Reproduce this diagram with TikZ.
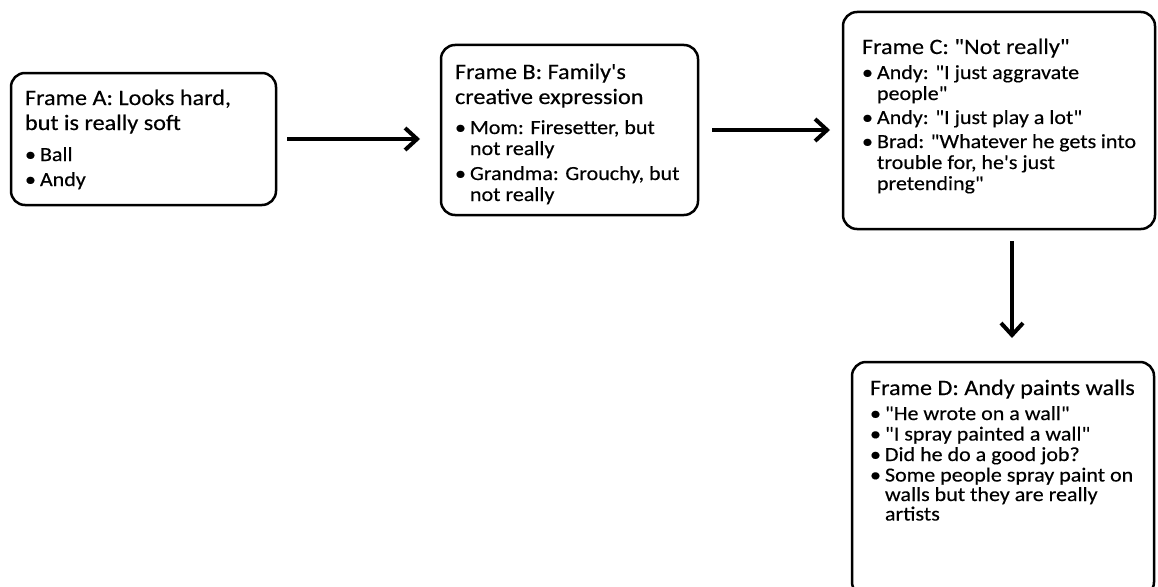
\documentclass[tikz,border=0pt]{standalone}
\usepackage{fontspec}
\setmainfont{Carlito}[FakeStretch=1.1, FakeBold=0.35, Ligatures=TeXOff]
\usetikzlibrary{arrows.meta}
\newcommand\frtitle[1]{{\fontsize{22}{25}\selectfont\rule{0pt}{16pt}#1\par}}
\newcommand\bitem[2][21]{{\fontsize{20}{#1}\selectfont\hangindent=15pt\hangafter=1\noindent\makebox[15pt][l]{•}#2\par}}
\tikzset{
  frame/.style={draw, line width=2.5pt, rounded corners=14pt, anchor=north west, outer sep=0pt, fill=white},
  arr/.style={line width=4pt, -{Straight Barb[length=12pt,width=22pt]}}
}
\begin{document}
\begin{tikzpicture}[x=1pt,y=-1pt]
\useasboundingbox (0,0) rectangle (1158,586);
\fill[white] (0,0) rectangle (1158,586);
\node[frame, inner xsep=14pt, inner ysep=16pt] (A) at (11,73) {\parbox[t][100pt][t]{237pt}{\raggedright\setlength{\parskip}{4pt}%
\frtitle{Frame A: Looks hard,\newline but is really soft}
\vspace{6pt}
\bitem{Ball}
\bitem{Andy}}};
\node[frame, inner xsep=14pt, inner ysep=18pt] (B) at (441,45) {\parbox[t][134pt][t]{229pt}{\raggedright\setlength{\parskip}{4pt}%
\frtitle{Frame B: Family's\newline creative expression}
\vspace{5pt}
\bitem{Mom: Firesetter, but\newline not really}
\bitem{Grandma: Grouchy, but\newline not really}}};
\node[frame, inner xsep=19pt, inner ysep=26pt] (C) at (843,12) {\parbox[t][165pt][t]{274pt}{\raggedright\setlength{\parskip}{3pt}%
\frtitle{Frame C: "Not really"}
\vspace{1pt}
\bitem{Andy: "I just aggravate\newline people"}
\bitem{Andy: "I just play a lot"}
\bitem{Brad: "Whatever he gets into\newline trouble for, he's just\newline pretending"}}};
\node[frame, inner xsep=18pt, inner ysep=17pt] (D) at (852,362) {\parbox[t][200pt][t]{266pt}{\raggedright\setlength{\parskip}{1pt}%
\frtitle{Frame D: Andy paints walls}
\vspace{4.5pt}
\bitem[19.5]{"He wrote on a wall"}
\bitem[19.5]{"I spray painted a wall"}
\bitem[19.5]{Did he do a good job?}
\bitem[19.5]{Some people spray paint on\newline walls but they are really\newline artists}}};
\draw[arr, shorten <=11pt, shorten >=21pt] (A.east) -- (A.east -| B.west);
\draw[arr, shorten <=14pt, shorten >=13pt] (B.east) -- (B.east -| C.west);
\draw[arr, shorten <=12pt, shorten >=24pt] ([xshift=13pt]C.south) -- ([xshift=13pt]C.south |- D.north);
\end{tikzpicture}
\end{document}
